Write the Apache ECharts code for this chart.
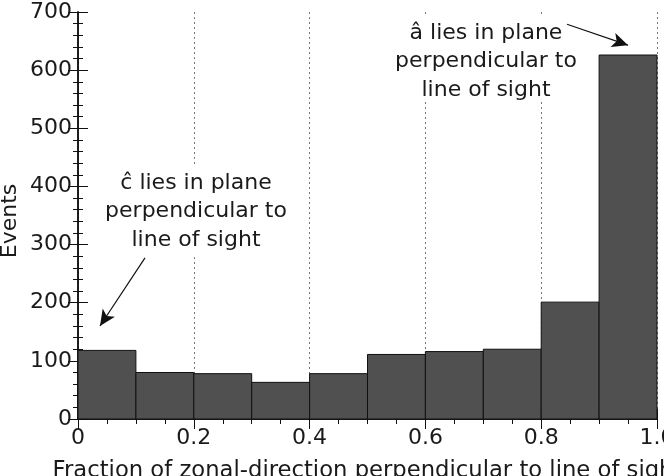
<!DOCTYPE html>
<html>
<head>
<meta charset="utf-8">
<script src="https://cdn.jsdelivr.net/npm/echarts@6/dist/echarts.min.js"></script>
<style>html,body{margin:0;padding:0;background:#fff}#c{width:664px;height:476px}</style>
</head>
<body>
<div id="c"></div>
<script>
const binStarts = [0.0, 0.1, 0.2, 0.3, 0.4, 0.5, 0.6, 0.7, 0.8, 0.9];
const binWidth = 0.1;
const events = [118, 80, 78, 63, 78, 111, 116, 120, 201, 626];
const xTicks = [0, 0.2, 0.4, 0.6, 0.8, 1.0];
const yTicks = [0, 100, 200, 300, 400, 500, 600, 700];
const xTitle = 'Fraction of zonal-direction perpendicular to line of sight';
const yTitle = 'Events';
const noteC = ['\u0109 lies in plane', 'perpendicular to', 'line of sight'];
const noteA = ['\u00e2 lies in plane', 'perpendicular to', 'line of sight'];
const arrowC = [[0.1157, 277], [0.038, 160]];
const arrowA = [[0.8446, 679], [0.95, 643]];

const FONT = 'DejaVu Sans';
const TXT = '#1a1a1a';
const chart = echarts.init(document.getElementById('c'));
const data = binStarts.map((s, i) => [s, s + binWidth, events[i]]);

function axisBase(extra) {
  return Object.assign({
    axisLine: { show: true, lineStyle: { color: '#111', width: 1.5 } },
    axisTick: { show: true, inside: true, length: 10, lineStyle: { color: '#111' } },
    minorTick: { show: true, length: 5, lineStyle: { color: '#111' } },
    splitLine: { show: false }
  }, extra);
}

chart.setOption({
  animation: false,
  grid: { left: 78, right: 7, top: 12, bottom: 57, containLabel: false, outerBoundsMode: 'none' },
  xAxis: [
    axisBase({
      type: 'value', min: xTicks[0], max: xTicks[xTicks.length - 1], interval: 0.2,
      position: 'bottom',
      minorTick: { show: true, splitNumber: 4, length: 5, lineStyle: { color: '#111' } },
      axisLabel: {
        color: TXT, fontFamily: FONT, fontSize: 22, margin: 8,
        formatter: v => (v === 0 ? '0' : v.toFixed(1))
      },
      splitLine: { show: true, lineStyle: { color: '#777', type: [2, 3], width: 1 } },
      name: xTitle, nameLocation: 'middle', nameGap: 41,
      nameTextStyle: { color: TXT, fontFamily: FONT, fontSize: 22.7 }
    }),
    axisBase({
      type: 'value', min: 0, max: 1, interval: 0.2, position: 'top',
      minorTick: { show: true, splitNumber: 4, length: 5, lineStyle: { color: '#111' } },
      axisLabel: { show: false }
    })
  ],
  yAxis: [
    axisBase({
      type: 'value', min: yTicks[0], max: yTicks[yTicks.length - 1], interval: 100,
      position: 'left',
      minorTick: { show: true, splitNumber: 5, length: 5, lineStyle: { color: '#111' } },
      axisLabel: { color: TXT, fontFamily: FONT, fontSize: 22, margin: 6 }
    }),
    axisBase({
      type: 'value', min: 0, max: 700, interval: 100, position: 'right',
      minorTick: { show: true, splitNumber: 5, length: 5, lineStyle: { color: '#111' } },
      axisLabel: { show: false }
    })
  ],
  series: [{
    type: 'custom',
    xAxisIndex: 0, yAxisIndex: 0,
    data: data,
    renderItem: function (params, api) {
      const p0 = api.coord([api.value(0), 0]);
      const p1 = api.coord([api.value(1), api.value(2)]);
      return {
        type: 'rect',
        shape: { x: p0[0], y: p1[1], width: p1[0] - p0[0], height: p0[1] - p1[1] },
        style: { fill: '#505050', stroke: '#111', lineWidth: 1 }
      };
    },
    markLine: {
      silent: true, z: 200,
      symbol: ['none', 'arrow'], symbolSize: [11, 16],
      label: { show: false },
      lineStyle: { color: '#111', width: 1.2, type: 'solid' },
      data: [
        [{ coord: arrowC[0] }, { coord: arrowC[1] }],
        [{ coord: arrowA[0] }, { coord: arrowA[1] }]
      ]
    }
  }],
  graphic: [
    { type: 'rect', z: 50, shape: { x: 100, y: 165, width: 200, height: 92 }, style: { fill: '#fff' } },
    { type: 'rect', z: 50, shape: { x: 392, y: 14, width: 176, height: 88 }, style: { fill: '#fff' } },
    { type: 'text', z: 60, x: 10, y: 221, rotation: Math.PI / 2,
      style: { text: yTitle, fill: TXT, font: '22px "DejaVu Sans"', align: 'center', verticalAlign: 'middle' } }
  ].concat(noteC.map((t, i) => ({
    type: 'text', z: 60, x: 196, y: 183 + i * 28.5,
    style: { text: t, fill: TXT, font: '22px "DejaVu Sans"', align: 'center', verticalAlign: 'middle' }
  }))).concat(noteA.map((t, i) => ({
    type: 'text', z: 60, x: 486, y: 33 + i * 28.5,
    style: { text: t, fill: TXT, font: '22px "DejaVu Sans"', align: 'center', verticalAlign: 'middle' }
  })))
});
</script>
</body>
</html>
